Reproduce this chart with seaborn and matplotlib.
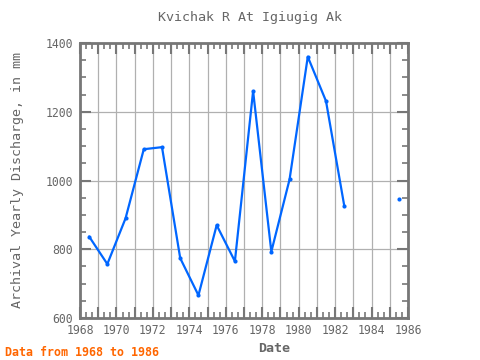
import matplotlib
matplotlib.use("Agg")
import matplotlib.pyplot as plt
import seaborn as sns
import numpy as np
import pandas as pd
from matplotlib.ticker import MultipleLocator, FuncFormatter

# Data
years = [1968.5, 1969.5, 1970.5, 1971.5, 1972.5, 1973.5, 1974.5, 1975.5,
         1976.5, 1977.5, 1978.5, 1979.5, 1980.5, 1981.5, 1982.5,
         1985.5]
discharge = [837, 757, 890, 1091, 1097, 774, 666, 870,
             765, 1260, 793, 1003, 1360, 1231, 927,
             946]
segment = [0] * 15 + [1]

title = "Kvichak R At Igiugig Ak"
ylabel = "Archival Yearly Discharge, in mm"
xlabel = "Date"
footer = "Data from 1968 to 1986"

df = pd.DataFrame({"year": years, "discharge": discharge, "segment": segment})

sns.set_theme(style="white")
mono = ["DejaVu Sans Mono"]
plt.rcParams["font.family"] = mono

fig = plt.figure(figsize=(4.8, 3.6), dpi=100)
ax = fig.add_axes([80/480, 1-318/360, 328/480, 275/360])

line_color = "#0066ff"
sns.lineplot(data=df, x="year", y="discharge", units="segment", ax=ax,
             color=line_color, linewidth=1.6, marker="o", markersize=3,
             markeredgewidth=0, estimator=None, sort=False)

ax.set_xlim(1968, 1986)
ax.set_ylim(600, 1400)

ax.xaxis.set_major_locator(MultipleLocator(1))
ax.xaxis.set_minor_locator(MultipleLocator(1/3))
ax.yaxis.set_major_locator(MultipleLocator(200))
ax.yaxis.set_minor_locator(MultipleLocator(50))
ax.xaxis.set_major_formatter(FuncFormatter(lambda v, p: f"{int(round(v))}" if int(round(v)) % 2 == 0 else ""))

grid_c = "#b0b0b0"
ax.grid(True, which="major", color=grid_c, linewidth=0.9)
ax.set_axisbelow(True)

spine_c = "#777777"
for s in ax.spines.values():
    s.set_color(spine_c)
    s.set_linewidth(2)

ax.tick_params(axis="both", which="both", direction="in", colors=spine_c,
               top=True, right=True, bottom=True, left=True)
ax.tick_params(axis="both", which="major", length=8, width=1.5,
               labelsize=8.3, labelcolor="#666666")
ax.tick_params(axis="both", which="minor", length=4, width=1.2)
ax.tick_params(axis="x", which="major", pad=4)
ax.tick_params(axis="y", which="major", pad=5)

ax.set_xlabel("")
ax.set_ylabel("")

fig.text(250/480, 1-18/360, title, ha="center", va="center",
         fontsize=9.6, color="#666666")
fig.text(274/480, 1-348/360, xlabel, ha="center", va="center",
         fontsize=9.6, color="#666666", fontweight="bold")
fig.text(18/480, 1-180/360, ylabel, ha="center", va="center",
         rotation=90, fontsize=9.6, color="#666666")
fig.text(5/480, 1-352/360, footer, ha="left", va="center",
         fontsize=8.4, color="#ff6600", fontweight="bold")

fig.savefig("out.png", dpi=100)
